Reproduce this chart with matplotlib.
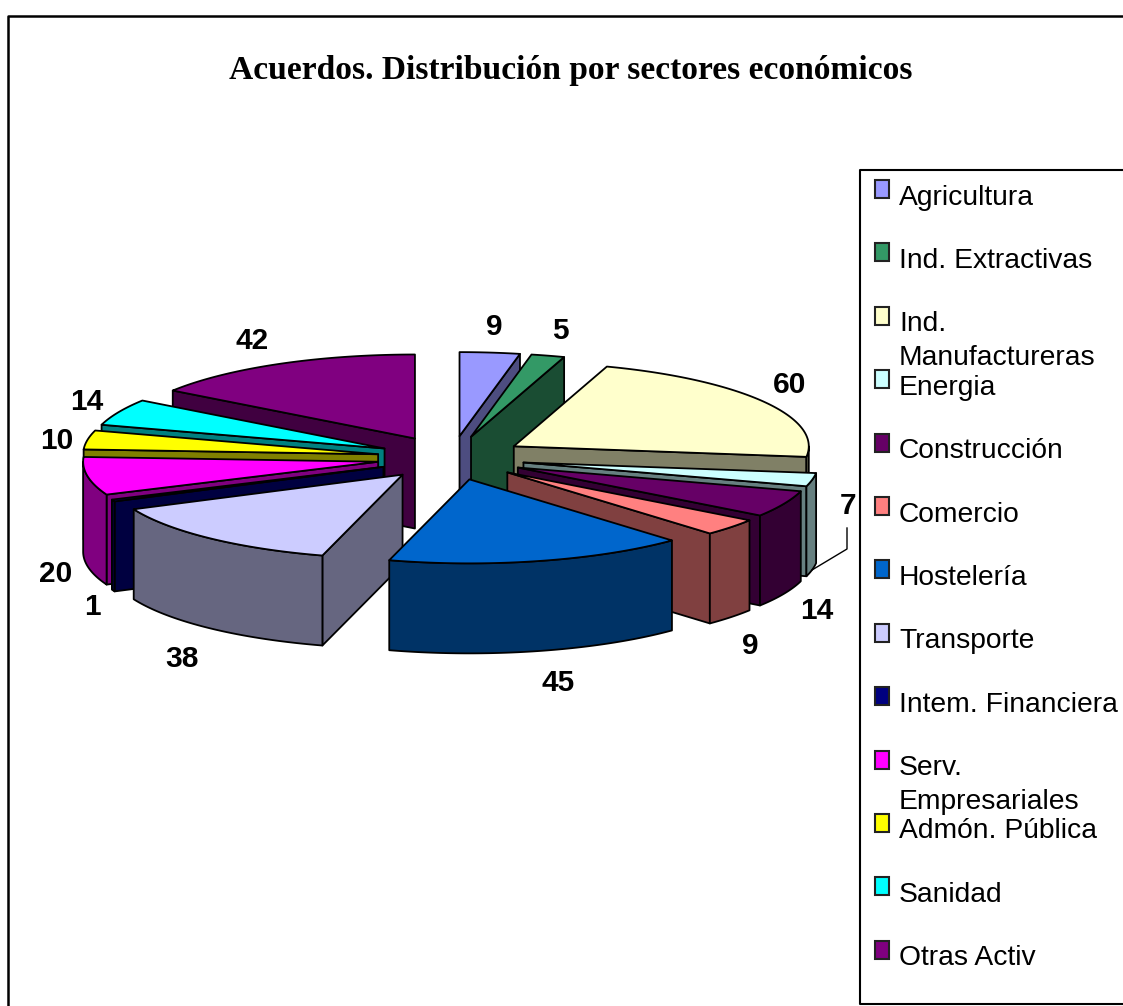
"""Acuerdos por sector: exploded 3D pie drawn from the values, plus boxed legend."""

import matplotlib
matplotlib.use("Agg")
import matplotlib.pyplot as plt
import numpy as np

TITLE = "Acuerdos. Distribución por sectores económicos"

SECTORS = ["Agricultura", "Ind. Extractivas", "Ind.\nManufactureras", "Energia",
           "Construcción", "Comercio", "Hostelería", "Transporte",
           "Intem. Financiera", "Serv.\nEmpresariales", "Admón. Pública",
           "Sanidad", "Otras Activ"]
VALUES = [9, 5, 60, 7, 14, 9, 45, 38, 1, 20, 10, 14, 42]

COLORS = ["#9999FF", "#339966", "#FFFFCC", "#CCFFFF", "#660066", "#FF8080", "#0066CC",
          "#CCCCFF", "#000080", "#FF00FF", "#FFFF00", "#00FFFF", "#800080"]
SIDE_COLORS = ["#4D4D80", "#1A4D33", "#808066", "#668080", "#330033", "#804040", "#003366",
               "#666680", "#000040", "#800080", "#808000", "#008080", "#400040"]

# where the value labels sit, in pixels
LABEL_XY = [(494, 327), (560, 331), (790, 385), (848, 506), (817, 611), (750, 646), (558, 683),
            (182, 659), (92, 607), (56, 574), (57, 441), (87, 402), (252, 341)]

# pie geometry in pixels
CX, CY = 437, 458
RX, RY = 295, 84
DEPTH = 90
EXPLODE_Y = 22
EXPLODE_RIGHT = 73
EXPLODE_RIGHT_SHIFT = 15
EXPLODE_LEFT = 60


def arc(apex, t1, t2):
    t = np.radians(np.linspace(t1, t2, max(int(t2 - t1) * 2, 2) + 1))
    return np.column_stack([apex[0] + RX * np.sin(t), apex[1] - RY * np.cos(t)])


def outer(apex, t):
    return arc(apex, t, t)[0]


def face(ax, pts, color):
    ax.fill(pts[:, 0], pts[:, 1], facecolor=color, edgecolor="black", linewidth=1.3,
            joinstyle="round")


def draw_slice(ax, t1, t2, top, side):
    mid = np.radians((t1 + t2) / 2)
    s = np.sin(mid)
    dx = EXPLODE_RIGHT_SHIFT + EXPLODE_RIGHT * s if s > 0 else -EXPLODE_LEFT * abs(s) ** 1.3
    apex = np.array([CX + dx, CY - EXPLODE_Y * np.cos(mid)])
    down = np.array([0, DEPTH])

    # walls that face the viewer
    for t, visible in ((t1, t1 > 180), (t2, t2 < 180)):
        if visible:
            p = outer(apex, t)
            face(ax, np.array([apex, p, p + down, apex + down]), side)

    # front rim
    a, b = max(t1, 90), min(t2, 270)
    if a < b:
        rim = arc(apex, a, b)
        face(ax, np.vstack([rim, rim[::-1] + down]), side)

    face(ax, np.vstack([apex, arc(apex, t1, t2)]), top)


def main():
    fig = plt.figure(figsize=(11.23, 10.06), dpi=100)
    ax = fig.add_axes([0, 0, 1, 1])
    ax.set_xlim(0, 1123)
    ax.set_ylim(1006, 0)
    ax.axis("off")

    # chart frame, runs off the right and bottom edges
    ax.plot([8, 8, 1123], [1006, 16, 16], color="black", linewidth=1.8)

    ax.text(571, 70, TITLE, family="Liberation Serif", weight="bold", fontsize=24.1,
            ha="center", va="center")

    edges = np.cumsum([0] + VALUES) / sum(VALUES) * 360
    mids = (edges[:-1] + edges[1:]) / 2
    for i in np.argsort(-np.cos(np.radians(mids))):
        draw_slice(ax, edges[i], edges[i + 1], COLORS[i], SIDE_COLORS[i])

    for v, (x, y) in zip(VALUES, LABEL_XY):
        ax.text(x, y, str(v), family="Liberation Sans", weight="bold", fontsize=21.5,
                ha="center", va="center")
    # leader line of the small Energia label
    ax.plot([847, 847, 812], [528, 549, 570], color="black", linewidth=1)

    # legend box
    ax.plot([1123, 860, 860, 1123], [170, 170, 1004, 1004], color="black", linewidth=1.5)
    for i, (name, c) in enumerate(zip(SECTORS, COLORS)):
        base = 204 + 63.4 * i
        ax.add_patch(plt.Rectangle((874.5, base - 24), 14.5, 18, facecolor=c,
                                   edgecolor="#222222", linewidth=1.5))
        for j, line in enumerate(name.split("\n")):
            ax.text(899, base + 0.5 + 34 * j, line, family="Liberation Sans", fontsize=20.3,
                    ha="left", va="baseline")

    fig.savefig("out.png", dpi=100)
    plt.close(fig)


if __name__ == "__main__":
    main()
